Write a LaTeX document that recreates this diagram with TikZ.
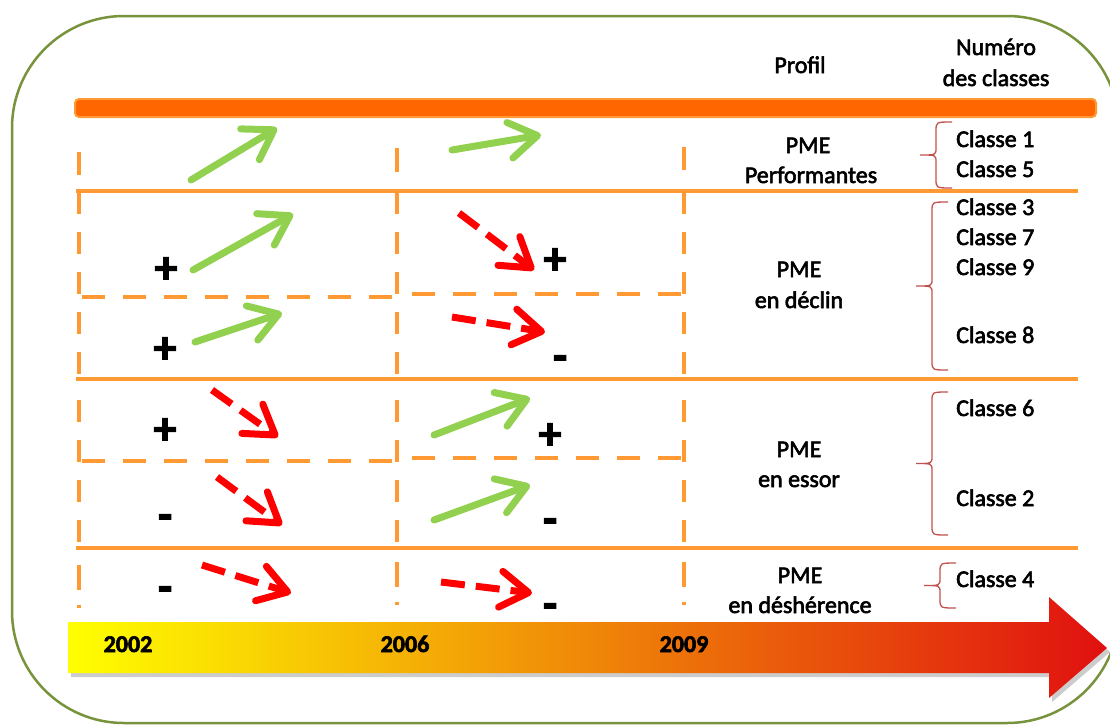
\documentclass[tikz,border=0pt]{standalone}
\usepackage{fontspec}
\setmainfont{Carlito}[FakeBold=2.5]
\usetikzlibrary{arrows.meta}
\definecolor{cadre}{HTML}{77933C}
\definecolor{barre}{HTML}{FF6600}
\definecolor{trait}{HTML}{FF9933}
\definecolor{hausse}{HTML}{92D050}
\definecolor{baisse}{HTML}{FF0000}
\definecolor{accolade}{HTML}{C0504D}
\definecolor{tljaune}{HTML}{FFFF00}
\definecolor{tlorange}{HTML}{F0900A}
\definecolor{tlrouge}{HTML}{E01010}
% accolade: abscisse du trait, haut, bas
\newcommand\accolade[3]{%
  \draw[accol] (#1+16,#2) .. controls (#1,#2) .. (#1,#2+9)
    -- (#1,{(#2+#3)/2-7}) .. controls (#1,{(#2+#3)/2}) .. (#1-16,{(#2+#3)/2})
    .. controls (#1,{(#2+#3)/2}) .. (#1,{(#2+#3)/2+7})
    -- (#1,#3-9) .. controls (#1,#3) .. (#1+16,#3);}
\begin{document}
\begin{tikzpicture}[x=1pt, y=-1pt,
  every node/.style={font=\fontsize{24}{29}\selectfont, inner sep=0pt},
  rang/.style={draw=trait, line width=4pt},
  pointille/.style={draw=trait, line width=4pt, dash pattern=on 23pt off 18pt},
  hausse fl/.style={draw=hausse, line width=7pt, line cap=round,
    -{Straight Barb[length=28pt, width=36pt, round]}},
  baisse fl/.style={draw=baisse, line width=7pt, dash pattern=on 24pt off 11pt,
    -{Straight Barb[length=28pt, width=36pt, round]}},
  signe/.style={font=\fontsize{46}{46}\selectfont\bfseries, anchor=base},
  profil/.style={anchor=base},
  classe/.style={anchor=base west},
  annee/.style={font=\fontsize{24}{29}\selectfont\bfseries, anchor=base},
  accol/.style={draw=accolade, line width=1.3pt}]
  \useasboundingbox (0,0) rectangle (1110,724);
  \clip (0,0) rectangle (1110,724);

  % cadre et barre du haut
  \draw[cadre, line width=2.5pt, rounded corners=112pt] (12,16) rectangle (1119,723);
  \draw[draw=trait, fill=barre, line width=2pt, rounded corners=4pt] (75,99) rectangle (1096,117);

  % en-tetes
  \node[profil] (titprofil) at (800,73) {Profil};
  \node[profil] (titnum) at (996,55) {Numéro};
  \node[profil] (titclasses) at (996,86) {des classes};

  % lignes des profils
  \foreach \y in {191,379,548}
    \draw[rang] (76,\y) -- (1078,\y);
  \foreach \cx/\ya/\yb in {79/152/175, 397/148/172, 684/147/170}
    \draw[rang] (\cx,\ya) -- (\cx,\yb);
  \foreach \cx in {79,397,684}
    \foreach \y in {192,232,272,312,352,400,440,480,520}
      \draw[rang] (\cx,\y) -- (\cx,\y+22);
  \foreach \cx/\ya in {79/565, 397/562, 684/562} {
    \draw[rang] (\cx,\ya) -- (\cx,\ya+25);
    \draw[rang] (\cx,\ya+40) -- (\cx,\ya+43);
  }
  \draw[pointille] (82,297) -- (397,297);
  \draw[pointille] (412,294) -- (684,294);
  \draw[pointille] (82,461) -- (397,461);
  \draw[pointille] (412,458) -- (684,458);

  % tendances
  \foreach \xa/\ya/\xb/\yb in {191/180/277/128, 452/150/541/135, 193/270/293/214,
      195/342/282/313, 434/435/530/398, 434/520/530/485}
    \draw[hausse fl] (\xa,\ya) -- (\xb,\yb);
  \foreach \xa/\ya/\xb/\yb in {459/213/534/270, 452/317/545/332, 212/390/278/437,
      217/477/282/525, 202/565/291/593, 441/582/532/593}
    \draw[baisse fl] (\xa,\ya) -- (\xb,\yb);

  % signes
  \foreach \sx/\sy [count=\i] in {166/267, 165/347, 165/428, 555/258, 550/433}
    \node[signe] (plus\i) at (\sx,\sy+16) {+};
  \foreach \sx/\sy [count=\i] in {165/516, 165/588, 560/357, 550/520, 550/605}
    \node[signe] (moins\i) at (\sx,\sy+14) {-};

  % profils
  \node[profil] (perfA) at (808,153) {PME};
  \node[profil] (perfB) at (811,183) {Performantes};
  \node[profil] (declA) at (799,277) {PME};
  \node[profil] (declB) at (799,308) {en déclin};
  \node[profil] (essA) at (799,457) {PME};
  \node[profil] (essB) at (799,487) {en essor};
  \node[profil] (desA) at (800,583) {PME};
  \node[profil] (desB) at (800,613) {en déshérence};

  % classes
  \foreach \num/\y in {1/147, 5/177, 3/215, 7/245, 9/275, 8/343, 6/416, 2/506, 4/587}
    \node[classe] (classe\num) at (956,\y) {Classe \num};
  \accolade{936}{122}{188}
  \accolade{932}{202}{370}
  \accolade{932}{392}{535}
  \accolade{940}{563}{608}

  % frise chronologique
  \fill[black, opacity=0.2] (71,626) -- (1052,626) -- (1052,601) -- (1110,652)
    -- (1052,702) -- (1052,677) -- (71,677) -- cycle;
  \shade[left color=tljaune, middle color=tlorange, right color=tlrouge]
    (68,622) -- (1049,622) -- (1049,597) -- (1107,648) -- (1049,698)
    -- (1049,673) -- (68,673) -- cycle;
  \node[annee] (an2002) at (128,652) {2002};
  \node[annee] (an2006) at (405,652) {2006};
  \node[annee] (an2009) at (684,652) {2009};
\end{tikzpicture}
\end{document}
